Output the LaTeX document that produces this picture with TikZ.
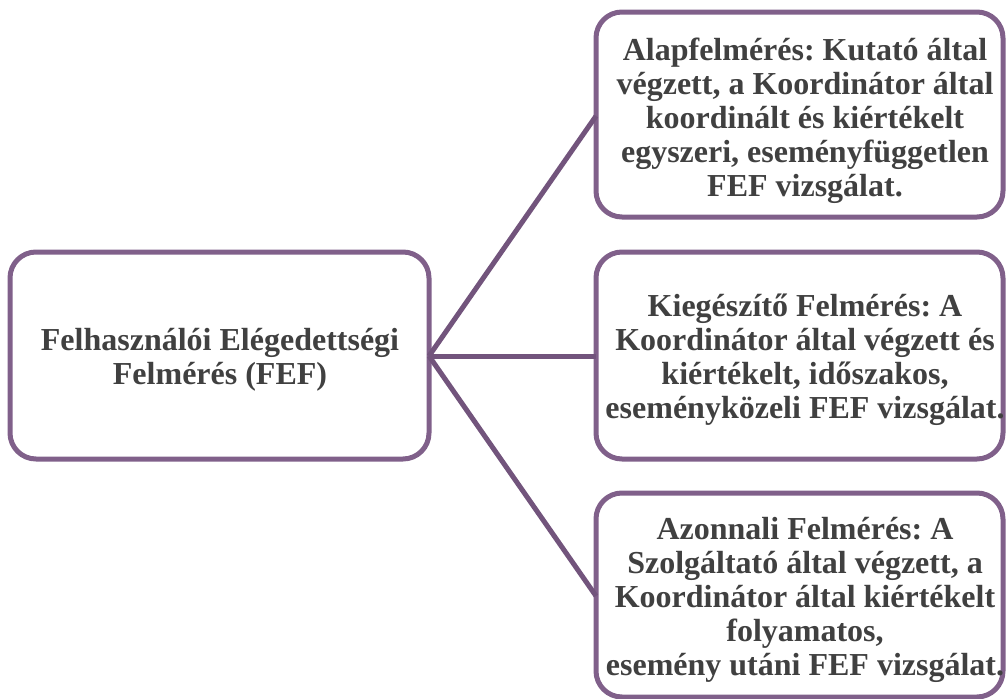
\documentclass[tikz,border=0pt]{standalone}
\usepackage{fontspec}
\setmainfont{LiberationSerif}[Extension=.ttf, UprightFont=*-Regular, BoldFont=*-Bold, ItalicFont=*-Italic, BoldItalicFont=*-BoldItalic]
\frenchspacing
\begin{document}
\begin{tikzpicture}[x=1pt,y=-1pt,
  boxstyle/.style={draw=boxcol, line width=5pt, rounded corners=26pt},
  txt/.style={align=center, text=txtcol, font=\bfseries\fontsize{32}{34}\selectfont},
  link/.style={draw=linkcol, line width=5pt}]
\definecolor{boxcol}{RGB}{128,96,138}
\definecolor{linkcol}{RGB}{114,84,124}
\definecolor{txtcol}{RGB}{64,64,64}
\useasboundingbox (0,0) rectangle (1007,699);
\draw[boxstyle] (10,252) rectangle (429,459);
\draw[boxstyle] (596,12) rectangle (1003,217);
\draw[boxstyle] (596,252) rectangle (1003,459);
\draw[boxstyle] (596,493) rectangle (1003,697);
\coordinate (src) at (429,356);
\coordinate (t1) at (596,116);
\coordinate (t2) at (596,356);
\coordinate (t3) at (596,596);
\draw[link] (src) -- (t1);
\draw[link] (src) -- (t2);
\draw[link] (src) -- (t3);
\node[txt] (n0) at (220,360) {Felhasználói Elégedettségi\\Felmérés (FEF)};
\node[txt] (n1) at (805,121) {Alapfelmérés: Kutató által\\végzett, a Koordinátor által\\koordinált és kiértékelt\\egyszeri, eseményfüggetlen\\FEF vizsgálat.};
\node[txt] (n2) at (805,360) {Kiegészítő Felmérés: A\\Koordinátor által végzett és\\kiértékelt, időszakos,\\eseményközeli FEF vizsgálat.};
\node[txt] (n3) at (805,600) {Azonnali Felmérés: A\\Szolgáltató által végzett, a\\Koordinátor által kiértékelt\\folyamatos,\\esemény utáni FEF vizsgálat.};
\end{tikzpicture}
\end{document}
